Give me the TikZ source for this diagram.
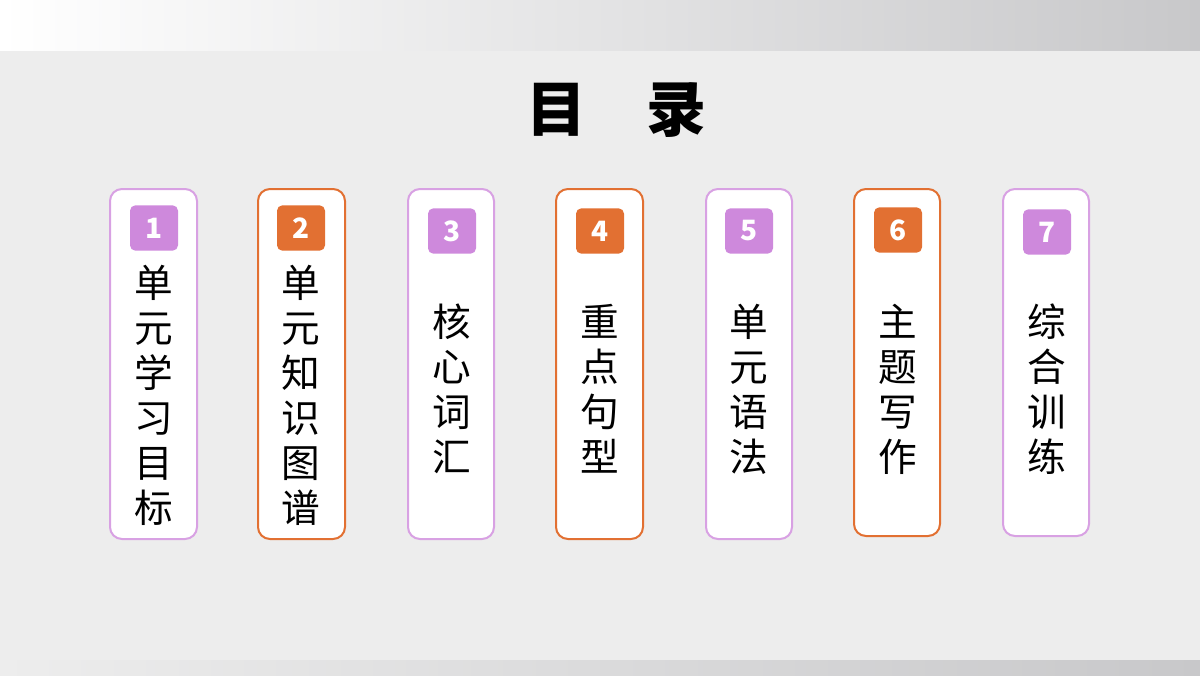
\documentclass[tikz,border=0pt]{standalone}
\usepackage{fontspec}
\newfontfamily\cjk{Noto Sans CJK SC}
\definecolor{bgGray}{RGB}{237,237,237}
\definecolor{bandGray}{RGB}{200,200,202}
\definecolor{lilac}{RGB}{206,137,220}
\definecolor{orng}{RGB}{226,112,50}
\tikzset{every picture/.style={line width=0.75pt}}
\tikzset{
  cardP/.style={draw=lilac!80, line width=1.5pt, fill=white, rounded corners=9},
  cardO/.style={draw=orng, line width=1.5pt, fill=white, rounded corners=9},
  badge/.style={rounded corners=4, minimum width=36pt, minimum height=34pt, inner sep=0pt, text=white, font=\cjk\bfseries\fontsize{21}{21}\selectfont},
  vtext/.style={align=center, inner sep=0pt, font=\cjk\fontsize{29}{33.75}\selectfont}
}
\begin{document}
\begin{tikzpicture}[x=0.75pt,y=0.75pt,yscale=-1,xscale=1]
\useasboundingbox (0,0) rectangle (1200,675);

%Background
\fill [bgGray] (0,0) rectangle (1200,675);
\shade [left color=white, right color=bandGray] (0,0) rectangle (1200,50);
\shade [left color=bgGray, right color=bandGray] (0,660) rectangle (1200,675);

% Title
\draw (616,110) node [font=\cjk\bfseries\fontsize{45}{45}\selectfont] (title) {目\hspace{45pt}录};

%Cards
\draw [cardP] (110,189) rectangle (197,539);
\draw [cardO] (258,189) rectangle (345,539);
\draw [cardP] (408,189) rectangle (494,539);
\draw [cardO] (556,189) rectangle (643,539);
\draw [cardP] (706,189) rectangle (792,539);
\draw [cardO] (854,189) rectangle (940,536);
\draw [cardP] (1003,189) rectangle (1089,536);

% Badges
\draw (154,228) node [badge, fill=lilac] (b1) {1};
\draw (301,228) node [badge, fill=orng] (b2) {2};
\draw (452,231) node [badge, fill=lilac] (b3) {3};
\draw (600,231) node [badge, fill=orng] (b4) {4};
\draw (749,231) node [badge, fill=lilac] (b5) {5};
\draw (898,230) node [badge, fill=orng] (b6) {6};
\draw (1047,232) node [badge, fill=lilac] (b7) {7};

% Text Node
\draw (154,395) node [vtext] (t1) {单\\元\\学\\习\\目\\标};
\draw (301,395) node [vtext] (t2) {单\\元\\知\\识\\图\\谱};
\draw (452,389) node [vtext] (t3) {核\\心\\词\\汇};
\draw (600,389) node [vtext] (t4) {重\\点\\句\\型};
\draw (749,389) node [vtext] (t5) {单\\元\\语\\法};
\draw (898,389) node [vtext] (t6) {主\\题\\写\\作};
\draw (1047,389) node [vtext] (t7) {综\\合\\训\\练};

\end{tikzpicture}
\end{document}
